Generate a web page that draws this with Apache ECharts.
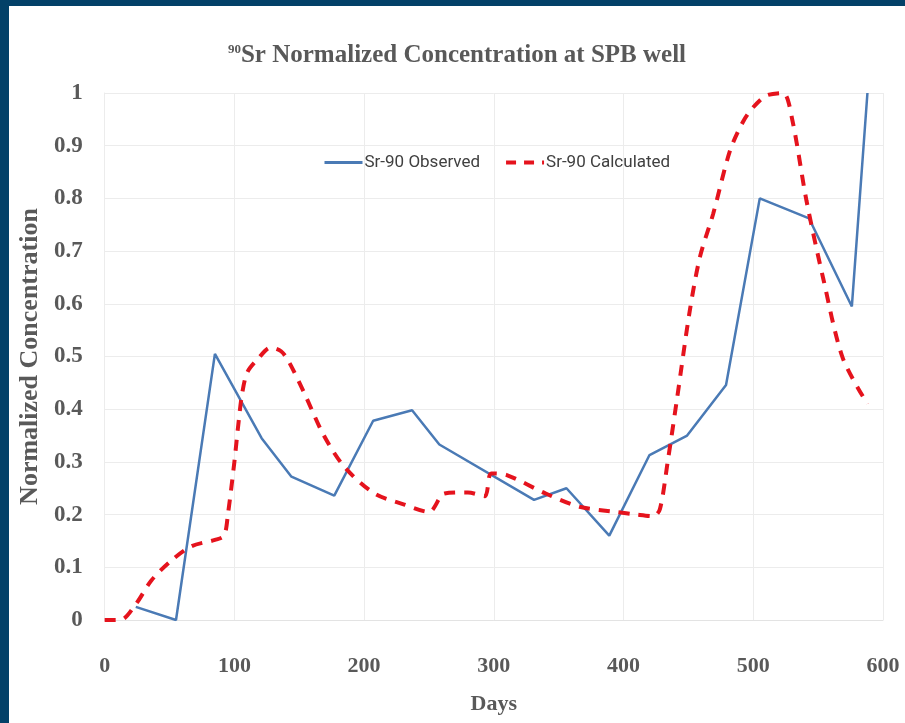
<!DOCTYPE html>
<html lang="en">
	<head>
		<meta charset="UTF-8" />
		<script src="https://cdn.jsdelivr.net/npm/echarts@6/dist/echarts.min.js"></script>
		<style>
			html, body { margin: 0; padding: 0; }
			body { width: 905px; height: 723px; background: #034168; position: relative; overflow: hidden; }
			#main { position: absolute; left: 9px; top: 6px; width: 896px; height: 717px; background: #ffffff; }
		</style>
	</head>
	<body>
		<div id="main"></div>
		<script>
			// observed (blue solid)
			var obsDays = [24, 55, 85, 121, 144, 177, 207, 237, 258, 331, 356, 389, 420, 449, 479, 505, 543, 576, 588];
			var obsConc = [0.025, 0, 0.505, 0.345, 0.272, 0.236, 0.378, 0.398, 0.333, 0.228, 0.25, 0.16, 0.313, 0.35, 0.446, 0.80, 0.762, 0.595, 1.0];

			// calculated (red dashed)
			var calcDays = [0, 12, 24, 36, 51, 67, 85, 92, 95, 100, 103, 106, 110, 118, 128, 136, 142, 154, 169, 185, 208, 231, 250, 262, 280, 293, 298, 310, 340, 366, 394, 410, 423, 428, 434, 441, 451, 459, 469, 482, 492, 500, 510, 523, 530, 541, 554, 569, 588];
			var calcConc = [0, 0, 0.03, 0.075, 0.112, 0.14, 0.152, 0.16, 0.2, 0.3, 0.37, 0.43, 0.47, 0.495, 0.517, 0.51, 0.49, 0.43, 0.35, 0.29, 0.24, 0.219, 0.205, 0.24, 0.242, 0.235, 0.278, 0.275, 0.24, 0.215, 0.205, 0.2, 0.197, 0.21, 0.3, 0.416, 0.586, 0.69, 0.77, 0.89, 0.945, 0.973, 0.995, 1.0, 0.95, 0.796, 0.647, 0.497, 0.41];

			var seriesNames = ['Sr-90 Observed', 'Sr-90 Calculated'];

			function pairs(xs, ys) {
				var out = [];
				for (var i = 0; i < xs.length; i++) out.push([xs[i], ys[i]]);
				return out;
			}

			var serif = '"Liberation Serif", "DejaVu Serif", serif';
			var grey = '#595959';

			var myChart = echarts.init(document.getElementById('main'));
			myChart.setOption({
				animation: false,
				title: {
					text: '{sup|90}Sr Normalized Concentration at SPB well',
					left: 'center',
					top: 32,
					textStyle: {
						fontFamily: serif,
						fontWeight: 'bold',
						fontSize: 25,
						color: grey,
						rich: {
							sup: { fontFamily: serif, fontWeight: 'bold', fontSize: 13, color: grey, verticalAlign: 'top', padding: [0, 0, 12, 0] }
						}
					}
				},
				legend: {
					left: 309,
					top: 143,
					itemWidth: 38,
					itemHeight: 14,
					itemGap: 24,
					itemStyle: { opacity: 0 },
					textStyle: { fontFamily: '"Liberation Sans Narrow", "Roboto", sans-serif', fontSize: 17, color: '#404040', padding: [0, 0, 0, -3] },
					data: [
						{ name: seriesNames[0], lineStyle: { width: 3 } },
						{ name: seriesNames[1], lineStyle: { width: 4, type: [10, 8] } }
					]
				},
				grid: {
					left: 94,
					right: 22,
					top: 87,
					bottom: 103
				},
				xAxis: {
					type: 'value',
					min: 0,
					max: 600,
					interval: 100,
					name: 'Days',
					nameLocation: 'middle',
					nameGap: 73,
					nameTextStyle: { fontFamily: serif, fontWeight: 'bold', fontSize: 22, color: grey },
					axisLine: { show: true, lineStyle: { color: '#e3e3e3' } },
					axisTick: { show: false },
					axisLabel: { fontFamily: serif, fontWeight: 'bold', fontSize: 22, color: grey, margin: 35 },
					splitLine: { show: true, lineStyle: { color: '#ececec' } }
				},
				yAxis: {
					type: 'value',
					min: 0,
					max: 1,
					interval: 0.1,
					name: 'Normalized Concentration',
					nameLocation: 'middle',
					nameGap: 55,
					nameTextStyle: { fontFamily: serif, fontWeight: 'bold', fontSize: 26, color: grey },
					axisLine: { show: true, lineStyle: { color: '#ececec' } },
					axisTick: { show: false },
					axisLabel: { fontFamily: serif, fontWeight: 'bold', fontSize: 23, color: grey, margin: 22 },
					splitLine: { show: true, lineStyle: { color: '#ececec' } }
				},
				series: [
					{
						name: seriesNames[0],
						type: 'line',
						showSymbol: false,
						symbol: 'none',
						lineStyle: { color: '#4a7ab5', width: 2.5 },
						itemStyle: { color: '#4a7ab5' },
						data: pairs(obsDays, obsConc)
					},
					{
						name: seriesNames[1],
						type: 'line',
						showSymbol: false,
						symbol: 'none',
						smooth: 0.3,
						lineStyle: { color: '#e5131d', width: 4, type: [11, 9] },
						itemStyle: { color: '#e5131d' },
						data: pairs(calcDays, calcConc)
					}
				]
			});
		</script>
	</body>
</html>
